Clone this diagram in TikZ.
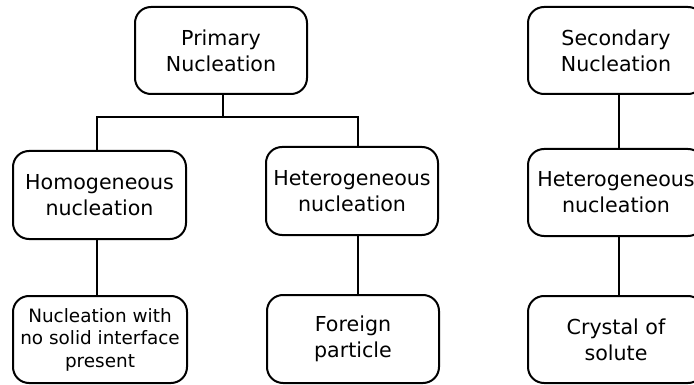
\documentclass[tikz,border=0pt]{standalone}
\usepackage{fontspec}
\setmainfont{DejaVu Sans}
\begin{document}
\begin{tikzpicture}[x=1pt,y=-1pt,
  box/.style={draw=black, line width=2pt, rounded corners=16pt, fill=white,
    minimum width=172pt, minimum height=87pt, align=center, inner sep=0pt,
    font=\fontsize{20.6}{26}\selectfont},
  small/.style={font=\fontsize{18.4}{22.5}\selectfont},
  link/.style={draw=black, line width=2pt}]
\useasboundingbox (0,0) rectangle (694,385);
\node[box] (prim) at (221,50.5) {Primary\\Nucleation};
\node[box, minimum width=173pt, minimum height=88pt] (homo) at (99.5,195) {Homogeneous\\nucleation};
\node[box, minimum height=88pt] (het) at (352,191) {Heterogeneous\\nucleation};
\node[box, small, minimum width=174pt] (nws) at (100,339.5) {Nucleation with\\no solid interface\\present};
\node[box, minimum height=88pt] (for) at (353,339) {Foreign\\particle};
\node[box, minimum width=176pt] (sec) at (616,50.5) {Secondary\\Nucleation};
\node[box, minimum width=176pt] (het2) at (616,192.5) {Heterogeneous\\nucleation};
\node[box, minimum width=176pt] (cry) at (616,339.5) {Crystal of\\solute};
\coordinate (j) at (223,117);
\draw[link] ([xshift=2pt]prim.south) -- (j);
\draw[link] ([xshift=-2.5pt]homo.north) |- (j) -| ([xshift=6pt]het.north);
\draw[link] ([xshift=-2.5pt]homo.south) -- ([xshift=-3pt]nws.north);
\draw[link] ([xshift=6pt]het.south) -- ([xshift=5pt]for.north);
\draw[link] ([xshift=3pt]sec.south) -- ([xshift=3pt]het2.north);
\draw[link] ([xshift=3pt]het2.south) -- ([xshift=3pt]cry.north);
\end{tikzpicture}
\end{document}
